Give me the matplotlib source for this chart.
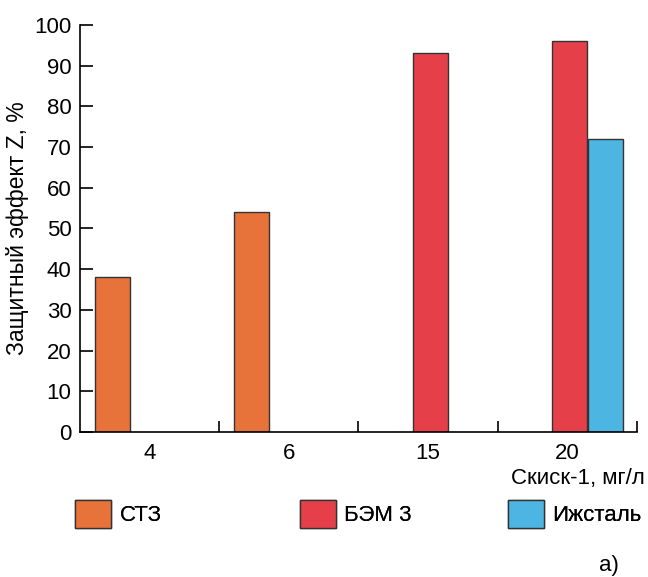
import matplotlib.pyplot as plt
from matplotlib.patches import Patch
import numpy as np

plt.rcParams['font.family'] = ['Liberation Sans', 'DejaVu Sans']

conc = ['4', '6', '15', '20']
series = ['СТЗ', 'БЭМ 3', 'Ижсталь']
stz = [38, 54, 0, 0]
bem = [0, 0, 93, 96]
izh = [0, 0, 0, 72]
colors = ['#E8733A', '#E5404A', '#4DB5E2']

x = np.arange(len(conc))
w = 0.25
offs = [-0.267, 0.016, 0.275]

fig = plt.figure(figsize=(6.48, 5.77), dpi=100)
ax = fig.add_axes([0.123, 0.2513, 0.860, 0.7054])

for vals, off, c in zip([stz, bem, izh], offs, colors):
    xs = [xi + off for xi, v in zip(x, vals) if v > 0]
    vs = [v for v in vals if v > 0]
    ax.bar(xs, vs, width=w, color=c, edgecolor='#333333', linewidth=1.0)

ax.set_xlim(-0.5, 3.5)
ax.set_ylim(0, 100)
ax.set_yticks(range(0, 101, 10))
ax.set_xticks(x)
ax.set_xticklabels(conc)
ax.set_xticks(np.arange(0.5, 3.6, 1), minor=True)
ax.tick_params(axis='x', which='major', length=0, pad=8, labelsize=16)
ax.tick_params(axis='x', which='minor', direction='in', length=8, width=1.2)
ax.tick_params(axis='y', direction='in', length=9, width=1.2, labelsize=16, pad=6)
for s in ['top', 'right']:
    ax.spines[s].set_visible(False)
for s in ['left', 'bottom']:
    ax.spines[s].set_linewidth(1.2)

ax.set_ylabel('Защитный эффект Z, %', fontsize=16.5, labelpad=4)
fig.text(0.995, 0.17, 'Скиск-1, мг/л', ha='right', va='center', fontsize=16)
fig.text(0.925, 0.02, 'а)', ha='left', va='center', fontsize=16)

box_x = [75, 300, 508]
for name, c, bx in zip(series, colors, box_x):
    h = Patch(facecolor=c, edgecolor='#333333', linewidth=1.0)
    lg = fig.legend([h], [name], loc='center left', bbox_to_anchor=(bx / 648, 1 - 514 / 577),
                    frameon=False, fontsize=16, handlelength=1.6, handleheight=1.6,
                    borderpad=0, borderaxespad=0, handletextpad=0.4)
    fig.add_artist(lg)

plt.savefig('out.png', dpi=100)
